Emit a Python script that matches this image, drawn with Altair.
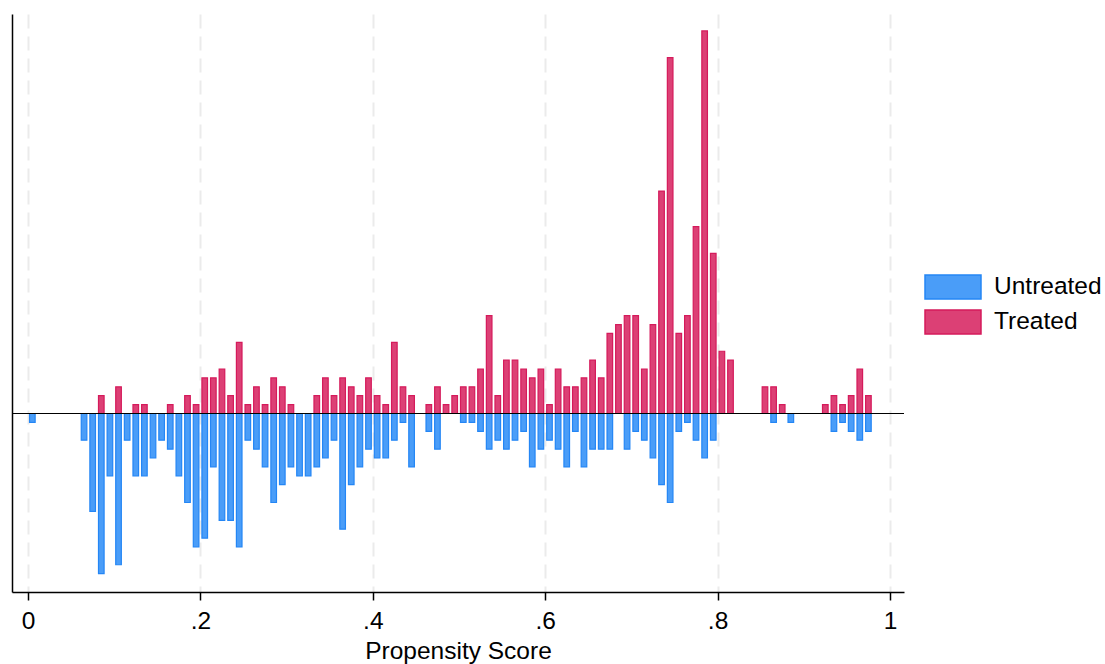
import altair as alt
import pandas as pd

# bin centres of the propensity-score histogram (width 0.01)
centers = [round(0.005 + 0.01 * k, 3) for k in range(98)]

treated = [
    0, 0, 0, 0, 0, 0, 0, 0, 2, 0,
    3, 0, 1, 1, 0, 0, 1, 0, 2, 1,
    4, 4, 5, 2, 8, 1, 3, 1, 4, 3,
    1, 0, 0, 2, 4, 2, 4, 3, 2, 4,
    2, 1, 8, 3, 2, 0, 1, 3, 1, 2,
    3, 3, 5, 11, 2, 6, 6, 5, 4, 5,
    1, 5, 3, 3, 4, 6, 4, 9, 10, 11,
    11, 5, 10, 25, 40, 9, 11, 21, 43, 18,
    7, 6, 0, 0, 0, 3, 3, 1, 0, 0,
    0, 0, 1, 2, 1, 2, 5, 2,
]

untreated = [
    1, 0, 0, 0, 0, 0, 3, 11, 18, 7,
    17, 3, 7, 7, 5, 3, 4, 7, 10, 15,
    14, 6, 12, 12, 15, 3, 4, 6, 10, 8,
    6, 7, 7, 6, 5, 3, 13, 8, 6, 4,
    5, 5, 3, 1, 6, 0, 2, 4, 0, 0,
    1, 1, 2, 4, 3, 4, 3, 2, 6, 4,
    3, 4, 6, 2, 6, 4, 4, 4, 0, 4,
    2, 3, 5, 8, 10, 2, 1, 3, 5, 3,
    0, 0, 0, 0, 0, 0, 1, 0, 1, 0,
    0, 0, 0, 2, 1, 2, 3, 2,
]

groups = ["Untreated", "Treated"]
tick_values = [0, 0.2, 0.4, 0.6, 0.8, 1]

rows = []
for c, t, u in zip(centers, treated, untreated):
    if u:
        rows.append({"score": c, "value": -u, "group": "Untreated"})
    if t:
        rows.append({"score": c, "value": t, "group": "Treated"})
df = pd.DataFrame(rows)
df["zero"] = 0

FONT = "Liberation Sans"

x_scale = alt.Scale(domain=[-0.0186, 1.0163], nice=False, zero=False, padding=0)
y_scale = alt.Scale(domain=[-20.06, 44.9], nice=False, zero=False, padding=0)

bars = alt.Chart(df).mark_bar(size=5.6, strokeWidth=1.2, opacity=1).encode(
    x=alt.X(
        "score:Q",
        scale=x_scale,
        axis=alt.Axis(
            values=tick_values,
            labelExpr="datum.value == 0 ? '0' : datum.value == 1 ? '1' : replace(format(datum.value, '.1f'), '0.', '.')",
            title="Propensity Score",
            grid=True,
            gridColor="#ebebeb",
            gridDash=[14, 8],
            gridWidth=2,
            domainColor="black",
            domainWidth=1.5,
            tickColor="black",
            tickWidth=1.5,
            tickSize=8,
            labelFont=FONT,
            labelFontSize=24.5,
            labelColor="black",
            labelPadding=9,
            titleFont=FONT,
            titleFontSize=24.5,
            titleFontWeight="normal",
            titleColor="black",
            titlePadding=7,
        ),
    ),
    y=alt.Y(
        "value:Q",
        scale=y_scale,
        axis=alt.Axis(
            labels=False,
            ticks=False,
            grid=False,
            title=None,
            domainColor="black",
            domainWidth=1.5,
        ),
    ),
    y2="zero:Q",
    fill=alt.Fill(
        "group:N",
        scale=alt.Scale(domain=groups, range=["#4a9df8", "#dc4075"]),
        legend=alt.Legend(
            title=None,
            orient="none",
            legendX=928,
            legendY=260,
            symbolType="M-2.333,-1L2.333,-1L2.333,1L-2.333,1Z",
            symbolSize=576,
            symbolStrokeWidth=1.5,
            symbolOpacity=1,
            labelFont=FONT,
            labelFontSize=24.5,
            labelColor="black",
            labelOffset=28,
            rowPadding=5,
        ),
    ),
    stroke=alt.Stroke(
        "group:N",
        scale=alt.Scale(domain=groups, range=["#2486f5", "#d51a5b"]),
        legend=None,
    ),
)

zero_line = alt.Chart(df).mark_rule(color="black", strokeWidth=1.2).encode(
    y=alt.Y("zero:Q", scale=y_scale)
)

chart = (
    alt.layer(bars, zero_line)
    .properties(
        width=892,
        height=578,
        autosize=alt.AutoSizeParams(type="none"),
        padding={"left": 12, "top": 14, "right": 201, "bottom": 72},
    )
    .configure_view(stroke=None)
)

chart.save("out.html", embed_options={"renderer": "svg", "actions": False})
